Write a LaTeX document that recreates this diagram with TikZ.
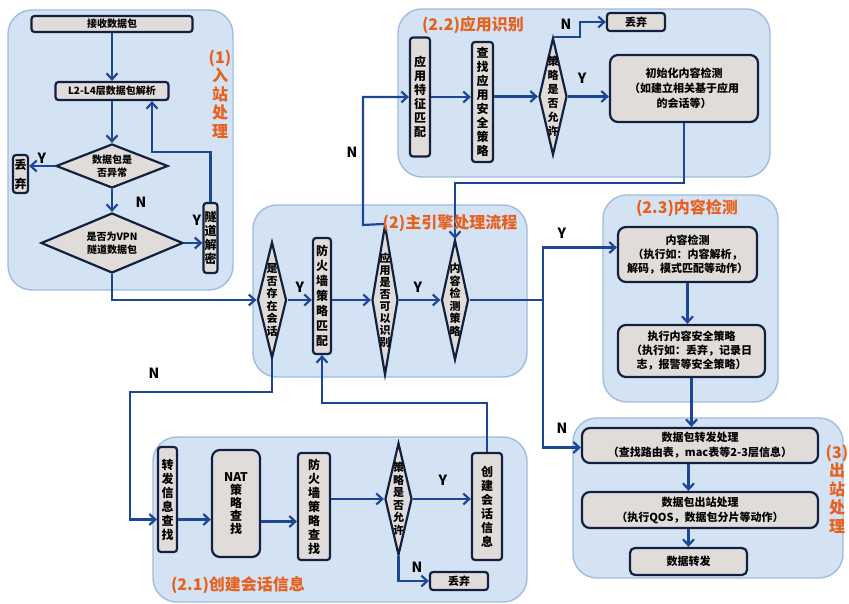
\documentclass[tikz,border=0pt]{standalone}
\usepackage{fontspec}
\setmainfont{Noto Sans CJK SC}
\usetikzlibrary{shapes.geometric,arrows.meta,calc}

\definecolor{grpfill}{RGB}{212,227,244}
\definecolor{grpline}{RGB}{160,188,224}
\definecolor{boxfill}{RGB}{224,220,218}
\definecolor{boxline}{RGB}{20,32,64}
\definecolor{flow}{RGB}{28,70,150}
\definecolor{tagc}{RGB}{232,96,30}

\tikzset{
  grp/.style={draw=grpline, fill=grpfill, line width=1.4pt, rounded corners=24pt},
  box/.style={draw=boxline, fill=boxfill, line width=2.2pt, rounded corners=3pt,
    inner sep=0pt, align=center, font=\fontsize{11}{15}\selectfont\bfseries},
  bigbox/.style={box, rounded corners=8pt},
  vbox/.style={box, font=\fontsize{12}{14}\selectfont\bfseries},
  dia/.style={draw=boxline, fill=boxfill, line width=2.2pt, shape=diamond, inner sep=0pt},
  dtext/.style={align=center, font=\fontsize{11}{12.5}\selectfont\bfseries, inner sep=0pt},
  flowline/.style={draw=flow, line width=2.2pt, -{Straight Barb[length=6pt,width=11pt]}},
  yn/.style={font=\fontsize{14}{14}\selectfont\bfseries, inner sep=0pt},
  tag/.style={text=tagc, font=\fontsize{16}{18.5}\selectfont\bfseries, align=center, inner sep=0pt},
}

\begin{document}
\begin{tikzpicture}[x=1pt,y=-1pt]
\useasboundingbox (0,0) rectangle (849,604);

% ---- stage backgrounds ----
\path[grp] (8,10) rectangle (233,290);
\path[grp] (253,205) rectangle (527,377);
\path[grp] (398,9) rectangle (770,177);
\path[grp] (603,195) rectangle (778,402);
\path[grp] (573,418) rectangle (843,578);
\path[grp] (153,437) rectangle (527,602);

% ---- (1) inbound ----
\node[box, minimum width=161, minimum height=16, font=\fontsize{10}{12}\selectfont\bfseries] (recv) at (112,24) {接收数据包};
\node[box, minimum width=113, minimum height=18, font=\fontsize{10}{12}\selectfont\bfseries] (parse) at (112,91) {L2-L4层数据包解析};
\node[dia, minimum width=112, minimum height=44] (abn) at (112,166) {};
\node[dtext, font=\fontsize{10}{12.5}\selectfont\bfseries] (abn-t) at (abn.center) {数据包是\\否异常};
\node[vbox, minimum width=15, minimum height=38, font=\fontsize{12}{19}\selectfont\bfseries] (drop1) at (20.5,174) {丢\\弃};
\node[dia, minimum width=142, minimum height=60] (vpn) at (112,243) {};
\node[dtext, font=\fontsize{10}{13}\selectfont\bfseries] (vpn-t) at (vpn.center) {是否为VPN\\隧道数据包};
\node[vbox, minimum width=14, minimum height=70] (tun) at (210.5,238) {隧\\道\\解\\密};
\node[tag] (tag1) at (220,94) {(1)\\入\\站\\处\\理};

% ---- (2) main engine ----
\node[dia, minimum width=29, minimum height=116] (sess) at (272,300) {};
\node[dtext] (sess-t) at (sess.center) {是\\否\\存\\在\\会\\话};
\node[vbox, minimum width=18, minimum height=116, font=\fontsize{12}{15}\selectfont\bfseries] (fw) at (322,296) {防\\火\\墙\\策\\略\\匹\\配};
\node[dia, minimum width=26, minimum height=150] (app) at (385,300) {};
\node[dtext, font=\fontsize{11}{12}\selectfont\bfseries] (app-t) at (app.center) {应\\用\\是\\否\\可\\以\\识\\别};
\node[dia, minimum width=27, minimum height=120] (cdet) at (455,300) {};
\node[dtext] (cdet-t) at (cdet.center) {内\\容\\检\\测\\策\\略};

% ---- (2.2) application identification ----
\node[vbox, minimum width=20, minimum height=119] (feat) at (420,97) {应\\用\\特\\征\\匹\\配};
\node[vbox, minimum width=21, minimum height=120] (find) at (482.5,102) {查\\找\\应\\用\\安\\全\\策\\略};
\node[dia, minimum width=28, minimum height=117] (pol) at (553,96.5) {};
\node[dtext, font=\fontsize{11}{14}\selectfont\bfseries] (pol-t) at (pol.center) {策\\略\\是\\否\\允\\许};
\node[box, minimum width=58, minimum height=18] (drop2) at (636,22) {丢弃};
\node[bigbox, minimum width=148, minimum height=67] (init) at (684,88.5) {初始化内容检测\\（如建立相关基于应用\\的会话等）};

% ---- (2.3) content inspection ----
\node[bigbox, minimum width=139, minimum height=55, font=\fontsize{11}{14}\selectfont\bfseries] (cd1) at (687.5,254.5) {内容检测\\（执行如：内容解析，\\解码，模式匹配等动作）};
\node[bigbox, minimum width=147, minimum height=52, font=\fontsize{11}{14}\selectfont\bfseries] (cd2) at (691.5,351) {执行内容安全策略\\（执行如：丢弃，记录日\\志，报警等安全策略）};

% ---- (3) outbound ----
\node[bigbox, minimum width=236, minimum height=35] (fw1) at (700,445.5) {数据包转发处理\\（查找路由表，mac表等2-3层信息）};
\node[bigbox, minimum width=236, minimum height=36] (ob) at (700,510) {数据包出站处理\\（执行QOS，数据包分片等动作）};
\node[box, rounded corners=5pt, minimum width=117, minimum height=27] (fwd) at (688.5,561.5) {数据转发};
\node[tag] (tag3) at (837,489) {(3)\\出\\站\\处\\理};

% ---- (2.1) session creation ----
\node[vbox, minimum width=19, minimum height=105] (fl) at (167.5,499.5) {转\\发\\信\\息\\查\\找};
\node[vbox, rounded corners=8pt, minimum width=48, minimum height=107, font=\fontsize{12}{13}\selectfont\bfseries] (nat) at (236,503.5) {NAT\\策\\略\\查\\找};
\node[vbox, minimum width=32, minimum height=107] (fw2) at (314,506.5) {防\\火\\墙\\策\\略\\查\\找};
\node[dia, minimum width=27, minimum height=112] (pol2) at (398.5,499) {};
\node[dtext, font=\fontsize{11}{12.5}\selectfont\bfseries] (pol2-t) at (pol2.center) {策\\略\\是\\否\\允\\许};
\node[vbox, minimum width=30, minimum height=107] (crt) at (487,506.5) {创\\建\\会\\话\\信\\息};
\node[box, minimum width=58, minimum height=18] (drop3) at (459,581) {丢弃};

% ---- bend points ----
\coordinate (k1) at (152,152);
\coordinate (nA) at (363,225);
\coordinate (k2) at (684,183);
\coordinate (k3) at (543,300);
\coordinate (k5) at (130,392);
\coordinate (k6) at (322,403);

% ---- connectors: (1) ----
\draw[flowline] (recv.south) -- (parse.north);
\draw[flowline] (parse.south) -- (abn.north);
\draw[flowline] (abn.west) -- (abn.west -| drop1.east);
\draw[flowline] (abn.south) -- (vpn.north);
\draw[flowline] (vpn.east) -- (vpn.east -| tun.west);
\draw[flowline] (tun.north) |- (k1) -- (k1 |- parse.south);
\draw[flowline] (vpn.south) |- (sess.west);

% ---- connectors: (2) ----
\draw[flowline] (sess.east) -- (sess.east -| fw.west);
\draw[flowline] (fw.east |- sess.east) -- (app.west);
\draw[flowline] (app.east) -- (cdet.west);
\draw[flowline] (app.north) -- (nA) |- (feat.west);
\draw[flowline] (cdet.east) -- (k3) |- ([yshift=7pt]cd1.west);
\draw[flowline] (k3) |- ([yshift=-2pt]fw1.west);
\draw[flowline] (sess.south) |- (k5) |- ([yshift=-20pt]fl.west);

% ---- connectors: (2.2) ----
\draw[flowline] (feat.east) -- (feat.east -| find.west);
\draw[flowline] (find.east |- pol.west) -- (pol.west);
\draw[flowline] (pol.east) -- (pol.east -| init.west);
\draw[flowline] (pol.north) -| (580,22) -- (drop2.west);
\draw[flowline] (init.south) -- (k2) -| (cdet.north);

% ---- connectors: (2.3) and (3) ----
\draw[flowline] (cd1.south) -- (cd1.south |- cd2.north);
\draw[flowline] (cd2.south) -- (cd2.south |- fw1.north);
\draw[flowline] (fwd.north |- fw1.south) -- (fwd.north |- ob.north);
\draw[flowline] (fwd.north |- ob.south) -- (fwd.north);

% ---- connectors: (2.1) ----
\draw[flowline] ([yshift=-20pt]fl.east) -- ([yshift=-20pt]fl.east -| nat.west);
\draw[flowline] ([yshift=-18pt]nat.east) -- ([yshift=-18pt]nat.east -| fw2.west);
\draw[flowline] (fw2.east |- pol2.west) -- (pol2.west);
\draw[flowline] (pol2.east) -- (pol2.east -| crt.west);
\draw[flowline] (pol2.south) |- (drop3.west);
\draw[flowline] (crt.north) |- (k6) -- (fw.south);

% ---- branch labels ----
\node[yn] (y1) at (42,158) {Y};
\node[yn] (n1) at (141,202) {N};
\node[yn] (y2) at (197,220) {Y};
\node[yn] (y3) at (300,287) {Y};
\node[yn] (y4) at (418,287) {Y};
\node[yn] (n2) at (352,152) {N};
\node[yn] (n3) at (566,24) {N};
\node[yn] (y5) at (582,78) {Y};
\node[yn] (y6) at (562,233) {Y};
\node[yn] (n4) at (562,428) {N};
\node[yn] (n5) at (154,373) {N};
\node[yn] (y7) at (443,480) {Y};
\node[yn] (n6) at (417,567) {N};

% ---- stage titles ----
\node[tag] (tag2) at (450,223) {(2)主引擎处理流程};
\node[tag] (tag22) at (473,25) {(2.2)应用识别};
\node[tag] (tag23) at (687,208) {(2.3)内容检测};
\node[tag] (tag21) at (238,585) {(2.1)创建会话信息};
\end{tikzpicture}
\end{document}
